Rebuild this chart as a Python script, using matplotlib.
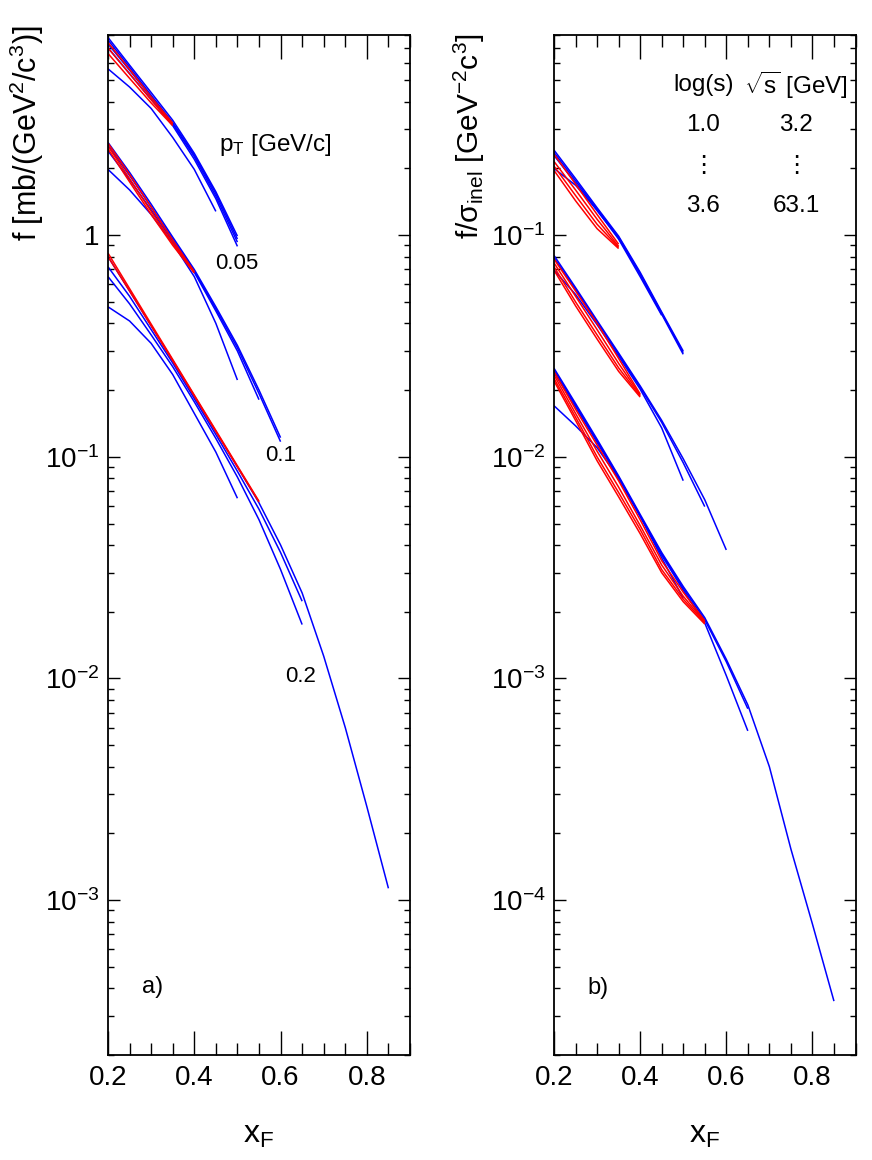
import matplotlib
matplotlib.use("Agg")
import matplotlib.pyplot as plt
from matplotlib.ticker import MultipleLocator, LogLocator, NullFormatter

plt.rcParams["font.family"] = ["Liberation Sans", "DejaVu Sans"]
plt.rcParams["mathtext.fontset"] = "custom"
plt.rcParams["mathtext.rm"] = "Liberation Sans"
plt.rcParams["mathtext.it"] = "Liberation Sans"
plt.rcParams["mathtext.sf"] = "Liberation Sans"

X_F = [0.2, 0.25, 0.3, 0.35, 0.4, 0.45, 0.5, 0.55, 0.6, 0.65, 0.7, 0.75, 0.8, 0.85]

# panel a) : f [mb/(GeV^2/c^3)], one list per curve, starting at x_F = 0.2
a05_blue = [
    [7.80, 5.85, 4.40, 3.30, 2.34, 1.57, 0.99],
    [7.60, 5.72, 4.28, 3.22, 2.30, 1.54, 0.96],
    [7.30, 5.55, 4.20, 3.18, 2.26, 1.50, 0.93],
    [7.00, 5.35, 4.10, 3.12, 2.20, 1.46, 0.89],
    [5.63, 4.66, 3.73, 2.76, 1.98, 1.28],
]
a05_red = [
    [7.40, 5.60, 4.20, 3.20],
    [7.00, 5.35, 4.08, 3.16],
    [6.60, 5.10, 3.95, 3.12],
]
a10_blue = [
    [2.62, 1.92, 1.38, 0.98, 0.70, 0.475, 0.318, 0.200, 0.122],
    [2.54, 1.86, 1.34, 0.96, 0.69, 0.465, 0.310, 0.193, 0.117],
    [2.40, 1.78, 1.30, 0.94, 0.68, 0.455, 0.300, 0.181],
    [1.98, 1.60, 1.24, 0.92, 0.65, 0.40, 0.222],
]
a10_red = [
    [2.60, 1.88, 1.34, 0.95, 0.684],
    [2.52, 1.80, 1.28, 0.92, 0.680],
    [2.45, 1.74, 1.24, 0.90, 0.675],
]
a20_blue = [
    [0.80, 0.56, 0.39, 0.272, 0.188, 0.130, 0.090, 0.062, 0.040, 0.0243,
     0.0126, 0.0060, 0.00264, 0.00113],
    [0.72, 0.53, 0.375, 0.265, 0.183, 0.126, 0.086, 0.058, 0.037, 0.0223],
    [0.65, 0.49, 0.355, 0.255, 0.177, 0.121, 0.081, 0.052, 0.031, 0.0175],
    [0.475, 0.41, 0.325, 0.235, 0.157, 0.105, 0.065],
]
a20_red = [
    [0.83, 0.574, 0.397, 0.275, 0.190, 0.1315, 0.091, 0.063],
    [0.80, 0.560, 0.390, 0.271, 0.188, 0.130, 0.090, 0.0625],
]

# panel b) : f/sigma_inel [GeV^-2 c^3]
b05_blue = [
    [0.242, 0.180, 0.133, 0.099, 0.068, 0.045, 0.0300],
    [0.236, 0.176, 0.131, 0.098, 0.067, 0.0445, 0.0295],
    [0.229, 0.172, 0.129, 0.097, 0.0665, 0.044, 0.0290],
    [0.200, 0.168, 0.130, 0.096, 0.065, 0.0435],
]
b05_red = [
    [0.232, 0.170, 0.124, 0.091],
    [0.215, 0.160, 0.118, 0.089],
    [0.205, 0.151, 0.112, 0.088],
    [0.196, 0.143, 0.107, 0.087],
]
b10_blue = [
    [0.081, 0.058, 0.0412, 0.0294, 0.0209, 0.0146, 0.0098, 0.0064, 0.0038],
    [0.079, 0.057, 0.0405, 0.0290, 0.0206, 0.0143, 0.0094, 0.00596],
    [0.0695, 0.054, 0.0395, 0.0284, 0.0202, 0.0135, 0.0078],
]
b10_red = [
    [0.078, 0.056, 0.040, 0.0278, 0.0192],
    [0.075, 0.053, 0.0375, 0.0264, 0.0190],
    [0.072, 0.050, 0.0355, 0.0252, 0.0188],
    [0.0695, 0.048, 0.034, 0.0243, 0.0186],
]
b20_blue = [
    [0.0251, 0.0174, 0.0120, 0.0082, 0.0055, 0.0037, 0.0026, 0.00188, 0.00122,
     0.00076, 0.00040, 0.00017, 7.8e-5, 3.5e-5],
    [0.0246, 0.0171, 0.0118, 0.0081, 0.0054, 0.00365, 0.00255, 0.00184, 0.00119, 0.00073],
    [0.0240, 0.0168, 0.0116, 0.0080, 0.0054, 0.0036, 0.0025, 0.00178, 0.00103, 0.00058],
    [0.0170, 0.0138, 0.0110, 0.0080, 0.0054, 0.0035, 0.0023],
]
b20_red = [
    [0.0242, 0.0164, 0.0113, 0.0078, 0.0052, 0.0034, 0.00245, 0.00182],
    [0.0234, 0.0157, 0.0106, 0.0073, 0.0049, 0.00325, 0.00235, 0.00180],
    [0.0226, 0.0151, 0.0100, 0.0069, 0.0047, 0.0031, 0.00228, 0.00178],
    [0.0220, 0.0146, 0.0096, 0.0066, 0.0045, 0.0030, 0.00222, 0.00176],
]

a_ticks = [1e-3, 1e-2, 1e-1, 1]
a_ticklabels = ["$10^{-3}$", "$10^{-2}$", "$10^{-1}$", "1"]
b_ticks = [1e-4, 1e-3, 1e-2, 1e-1]
b_ticklabels = ["$10^{-4}$", "$10^{-3}$", "$10^{-2}$", "$10^{-1}$"]


def draw_curves(ax, curves, color):
    for ys in curves:
        ax.plot(X_F[:len(ys)], ys, color=color, lw=1.1, solid_capstyle="butt")


def style_axes(ax, ylim, yticks, yticklabels):
    ax.set_yscale("log")
    ax.set_xlim(0.2, 0.9)
    ax.set_ylim(*ylim)
    ax.xaxis.set_minor_locator(MultipleLocator(0.05))
    ax.set_xticks([0.2, 0.4, 0.6, 0.8])
    ax.set_xticklabels(["0.2", "0.4", "0.6", "0.8"])
    ax.set_yticks(yticks)
    ax.set_yticklabels(yticklabels)
    ax.yaxis.set_minor_locator(LogLocator(base=10, subs=range(2, 10), numticks=20))
    ax.yaxis.set_minor_formatter(NullFormatter())
    ax.tick_params(which="both", direction="in", top=True, right=True,
                   labelsize=20, width=1.0)
    ax.tick_params(axis="x", which="major", length=17, pad=7)
    ax.tick_params(axis="x", which="minor", length=8.5)
    ax.tick_params(axis="y", which="major", length=8.5, pad=6)
    ax.tick_params(axis="y", which="minor", length=4.3)
    for sp in ax.spines.values():
        sp.set_linewidth(1.3)
    ax.set_xlabel("x$_F$", fontsize=23)
    ax.xaxis.set_label_coords(0.5, -0.064)


fig = plt.figure(figsize=(8.72, 11.6), dpi=100)
ax_a = fig.add_axes([108 / 872, 105 / 1160, 302 / 872, 1020 / 1160])
ax_b = fig.add_axes([554 / 872, 105 / 1160, 301.5 / 872, 1020 / 1160])

# panel a
for blue, red in [(a05_blue, a05_red), (a10_blue, a10_red), (a20_blue, a20_red)]:
    draw_curves(ax_a, blue, "#0000ff")
    draw_curves(ax_a, red, "#ff0000")
style_axes(ax_a, (2e-4, 8), a_ticks, a_ticklabels)
ax_a.set_ylabel("f [mb/(GeV$^2$/c$^3$)]", fontsize=22)
ax_a.yaxis.label.set_horizontalalignment("right")
ax_a.yaxis.set_label_coords(-0.205, 1.01)

ax_a.text(0.553, 0.892, "p$_T$ [GeV/c]", transform=ax_a.transAxes,
          fontsize=17.5, ha="center", va="center")
ax_a.text(0.427, 0.776, "0.05", transform=ax_a.transAxes, fontsize=16,
          ha="center", va="center")
ax_a.text(0.573, 0.588, "0.1", transform=ax_a.transAxes, fontsize=16,
          ha="center", va="center")
ax_a.text(0.639, 0.371, "0.2", transform=ax_a.transAxes, fontsize=16,
          ha="center", va="center")
ax_a.text(0.146, 0.067, "a)", transform=ax_a.transAxes, fontsize=17,
          ha="center", va="center")

# panel b
for blue, red in [(b05_blue, b05_red), (b10_blue, b10_red), (b20_blue, b20_red)]:
    draw_curves(ax_b, blue, "#0000ff")
    draw_curves(ax_b, red, "#ff0000")
style_axes(ax_b, (2e-5, 0.8), b_ticks, b_ticklabels)
ax_b.set_ylabel("f/σ$_{\\mathrm{inel}}$ [GeV$^{-2}$c$^3$]", fontsize=21.5)
ax_b.yaxis.label.set_horizontalalignment("right")
ax_b.yaxis.set_label_coords(-0.222, 1.002)

col_log = 0.495
col_sqrt = 0.803
ax_b.text(col_log, 0.951, "log(s)", transform=ax_b.transAxes, fontsize=17.5,
          ha="center", va="center")
ax_b.text(col_sqrt, 0.951, "$\\sqrt{\\mathrm{s}}$ [GeV]", transform=ax_b.transAxes,
          fontsize=17.5, ha="center", va="center")
ax_b.text(col_log, 0.912, "1.0", transform=ax_b.transAxes, fontsize=17.5,
          ha="center", va="center")
ax_b.text(col_sqrt, 0.912, "3.2", transform=ax_b.transAxes, fontsize=17.5,
          ha="center", va="center")
ax_b.text(col_log, 0.873, "⋮", transform=ax_b.transAxes, fontsize=17.5,
          ha="center", va="center", family=["DejaVu Sans"])
ax_b.text(col_sqrt, 0.873, "⋮", transform=ax_b.transAxes, fontsize=17.5,
          ha="center", va="center", family=["DejaVu Sans"])
ax_b.text(col_log, 0.832, "3.6", transform=ax_b.transAxes, fontsize=17.5,
          ha="center", va="center")
ax_b.text(col_sqrt, 0.832, "63.1", transform=ax_b.transAxes, fontsize=17.5,
          ha="center", va="center")
ax_b.text(0.146, 0.066, "b)", transform=ax_b.transAxes, fontsize=17,
          ha="center", va="center")

fig.savefig("out.png", dpi=100)
